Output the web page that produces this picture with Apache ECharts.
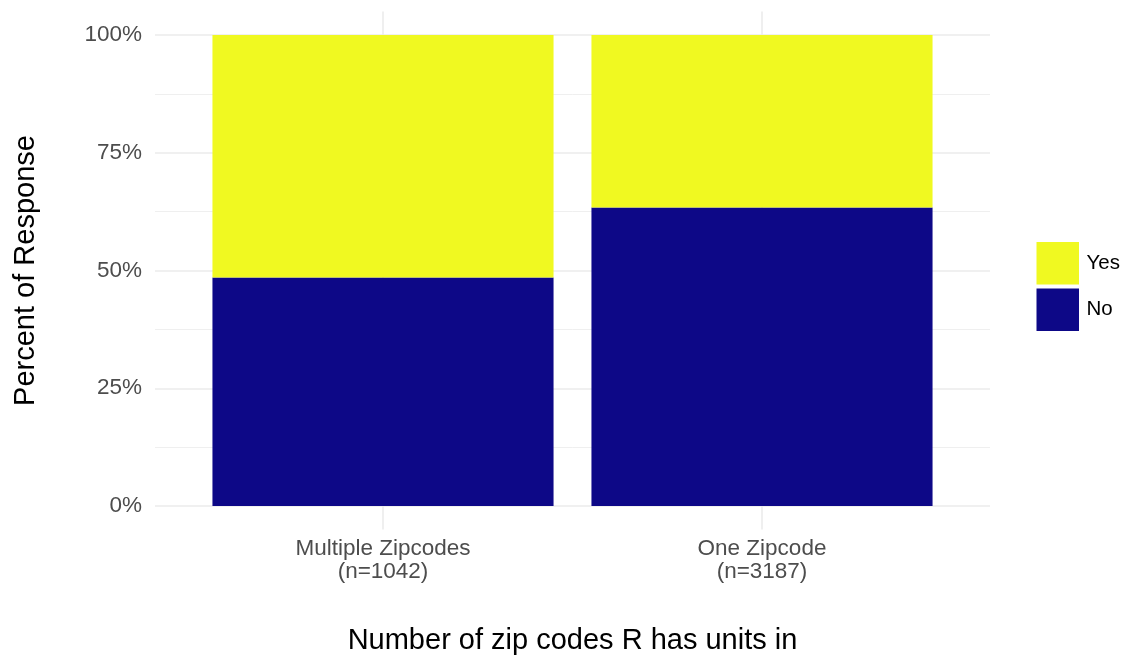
<!DOCTYPE html>
<html>
<head>
<meta charset="utf-8">
<script src="https://cdn.jsdelivr.net/npm/echarts@6/dist/echarts.min.js"></script>
<style>
html,body{margin:0;padding:0;background:#fff;}
#chart{width:1126px;height:656px;}
</style>
</head>
<body>
<div id="chart"></div>
<script>
const categories = ['Multiple Zipcodes', 'One Zipcode'];
const nCounts = [1042, 3187];
const noPct = [48.5, 63.4];
const yesPct = [51.5, 36.6];
const yTicks = [0, 25, 50, 75, 100];

const FONT = 'Liberation Sans, Arial, sans-serif';
const GRID_COL = '#EBEBEB';
const catLabels = categories.map((c, i) => c + '\n(n=' + nCounts[i] + ')');

const chart = echarts.init(document.getElementById('chart'), null, {renderer: 'canvas'});
chart.setOption({
  backgroundColor: '#fff',
  animation: false,
  textStyle: {fontFamily: FONT},
  grid: [
    {left: 155, right: 136, top: 35, bottom: 150, containLabel: false, outerBoundsMode: 'none'},
    {left: 193.5, right: 174.5, top: 35, bottom: 150, containLabel: false, outerBoundsMode: 'none'},
    {left: 383, right: 364, top: 11.5, bottom: 126.5, containLabel: false, outerBoundsMode: 'none'}
  ],
  legend: {
    orient: 'vertical',
    left: 1031.5, top: 237,
    itemWidth: 42.5, itemHeight: 42.5, itemGap: 4,
    icon: 'rect',
    data: ['Yes', 'No'],
    textStyle: {fontSize: 20.5, color: '#000', fontFamily: FONT, padding: [4, 0, 0, 2.5]}
  },
  xAxis: [
    {gridIndex: 0, type: 'value', show: false},
    {gridIndex: 1, type: 'category', data: catLabels,
     axisLine: {show: false}, axisTick: {show: false}, splitLine: {show: false},
     axisLabel: {fontSize: 22.5, color: '#4D4D4D', margin: 31, lineHeight: 23, fontFamily: FONT},
     name: 'Number of zip codes R has units in', nameLocation: 'middle', nameGap: 120,
     nameTextStyle: {fontSize: 29, color: '#000', fontFamily: FONT}},
    {gridIndex: 2, type: 'value', min: 1, max: 2, interval: 1,
     axisLine: {show: false}, axisTick: {show: false}, axisLabel: {show: false},
     splitLine: {show: true, lineStyle: {color: GRID_COL, width: 1.6}}}
  ],
  yAxis: [
    {gridIndex: 0, type: 'value', min: 0, max: 100, interval: 25,
     axisLine: {show: false}, axisTick: {show: false},
     axisLabel: {formatter: '{value}%', fontSize: 22.5, color: '#4D4D4D', margin: 13, fontFamily: FONT},
     splitLine: {show: true, lineStyle: {color: GRID_COL, width: 1.6}},
     minorTick: {show: false, splitNumber: 2},
     minorSplitLine: {show: true, lineStyle: {color: GRID_COL, width: 0.8}},
     name: 'Percent of Response', nameLocation: 'middle', nameGap: 115,
     nameTextStyle: {fontSize: 29, color: '#000', fontFamily: FONT}},
    {gridIndex: 1, type: 'value', min: 0, max: 100, show: false},
    {gridIndex: 2, type: 'value', min: 0, max: 1, show: false}
  ],
  series: [
    {name: 'No', type: 'bar', xAxisIndex: 1, yAxisIndex: 1, stack: 'total',
     barWidth: '90%', data: noPct, itemStyle: {color: '#0D0887'}},
    {name: 'Yes', type: 'bar', xAxisIndex: 1, yAxisIndex: 1, stack: 'total',
     barWidth: '90%', data: yesPct, itemStyle: {color: '#F0F921'}}
  ]
});
</script>
</body>
</html>
